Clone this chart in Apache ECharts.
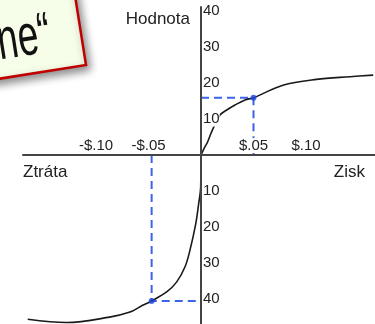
<!DOCTYPE html>
<html><head><meta charset="utf-8">
<script src="https://cdn.jsdelivr.net/npm/echarts@6/dist/echarts.min.js"></script>
<style>html,body{margin:0;padding:0;background:#fff}#c{width:375px;height:324px}</style>
</head><body><div id="c"></div>
<script>
// value function curve: gain side and loss side (each starts at the origin)
const gainX = [0, 0.0031, 0.0064, 0.0102, 0.0181, 0.0245, 0.0324, 0.0419, 0.050, 0.078, 0.110, 0.142, 0.164];
const gainY = [0, 1.9, 3.7, 6.5, 11.1, 12.5, 13.9, 15.3, 15.9, 19.4, 21.0, 21.75, 22.2];
const lossX = [0, -0.0003, -0.0024, -0.0052, -0.0105, -0.0152, -0.0231, -0.0327, -0.047, -0.058, -0.0676, -0.087, -0.128, -0.165];
const lossY = [0, -8.8, -13.9, -19.4, -26.4, -31.0, -35.2, -38.0, -40.5, -42.1, -43.6, -45.0, -46.5, -45.6];
// reference points (dashed guides)
const refGain = [0.050, 15.9];
const refLoss = [-0.047, -40.5];
// ticks
const xTickValues = [-0.10, -0.05, 0.05, 0.10];
const xTickLabels = ['-$.10', '-$.05', '$.05', '$.10'];
const yTickValues = [-40, -30, -20, -10, 10, 20, 30, 40];
// texts
const yTitle = 'Hodnota';
const xLeftTitle = 'Ztráta';
const xRightTitle = 'Zisk';
const noteText = 'ne\u201C';

const gainData = gainX.map((x, i) => [x, gainY[i]]);
const lossData = lossX.map((x, i) => [x, lossY[i]]);

const FONT = '"Liberation Sans", Arial, sans-serif';
const rot = 9 * Math.PI / 180;
const GRID = {left: 23, right: 0, top: 7, bottom: 0};
const chart = echarts.init(document.getElementById('c'), null, {renderer: 'canvas'});
const curveStyle = {color: '#1a1a1a', width: 1.6};
const dashStyle = {color: '#3d63e8', width: 2, type: [8, 5]};
chart.setOption({
  animation: false,
  backgroundColor: '#fff',
  grid: Object.assign({outerBoundsMode: 'none'}, GRID),
  xAxis: {
    type: 'value', min: -0.1695, max: 0.1657, z: 5, position: 'bottom', offset: 0,
    axisLine: {onZero: false, lineStyle: {color: '#444', width: 2}},
    axisTick: {show: false}, splitLine: {show: false},
    axisLabel: {
      inside: true, margin: 2, customValues: xTickValues,
      fontSize: 15, fontFamily: FONT, color: '#222', backgroundColor: '#fff',
      formatter: v => { const i = xTickValues.findIndex(t => Math.abs(t - v) < 1e-9); return i >= 0 ? xTickLabels[i] : ''; }
    }
  },
  yAxis: {
    type: 'value', min: -46.9, max: 41.1, z: 5, position: 'left', offset: 0,
    axisLine: {onZero: false, lineStyle: {color: '#444', width: 2}},
    axisTick: {show: false}, splitLine: {show: false},
    axisLabel: {
      inside: true, margin: 2, customValues: yTickValues,
      fontSize: 15, fontFamily: FONT, color: '#222', backgroundColor: '#fff',
      formatter: v => String(Math.abs(v))
    }
  },
  series: [
    {type: 'line', data: [[0, refGain[1]], refGain, [refGain[0], 0]], symbol: 'none', z: 2, lineStyle: dashStyle},
    {type: 'line', data: [[refLoss[0], 0], refLoss, [0, refLoss[1]]], symbol: 'none', z: 2, lineStyle: dashStyle},
    {type: 'line', data: gainData, symbol: 'none', smooth: 0.35, z: 3, lineStyle: curveStyle},
    {type: 'line', data: lossData, symbol: 'none', smooth: 0.35, z: 3, lineStyle: curveStyle},
    {type: 'scatter', data: [refGain, refLoss], symbolSize: 6, z: 4, itemStyle: {color: '#1f45e0'}}
  ],
  graphic: [
    {type: 'text', x: 190, y: 19, style: {text: yTitle, fontSize: 17, fontFamily: FONT, fill: '#222', align: 'right', verticalAlign: 'middle'}},
    {type: 'text', x: 23, y: 172, style: {text: xLeftTitle, fontSize: 17, fontFamily: FONT, fill: '#222', align: 'left', verticalAlign: 'middle'}},
    {type: 'text', x: 365, y: 172, style: {text: xRightTitle, fontSize: 17, fontFamily: FONT, fill: '#222', align: 'right', verticalAlign: 'middle'}},
    {type: 'rect', x: 86, y: 65, rotation: rot, z: 100,
     shape: {x: -300, y: -150, width: 300, height: 150},
     style: {fill: '#f6fde9', stroke: '#c00000', lineWidth: 2.5, shadowBlur: 8, shadowColor: 'rgba(0,0,0,0.45)', shadowOffsetX: 3, shadowOffsetY: 4}},
    {type: 'text', x: 53, y: 51, rotation: rot, scaleX: 0.64, z: 101,
     style: {text: noteText, fontSize: 58, fontFamily: FONT, fill: '#111', align: 'right', verticalAlign: 'bottom', y: 13}}
  ]
});
// move the axes so they cross at the origin
const o = chart.convertToPixel({gridIndex: 0}, [0, 0]);
chart.setOption({
  xAxis: {offset: -(chart.getHeight() - GRID.bottom - o[1])},
  yAxis: {offset: -(o[0] - GRID.left)}
});
</script></body></html>
